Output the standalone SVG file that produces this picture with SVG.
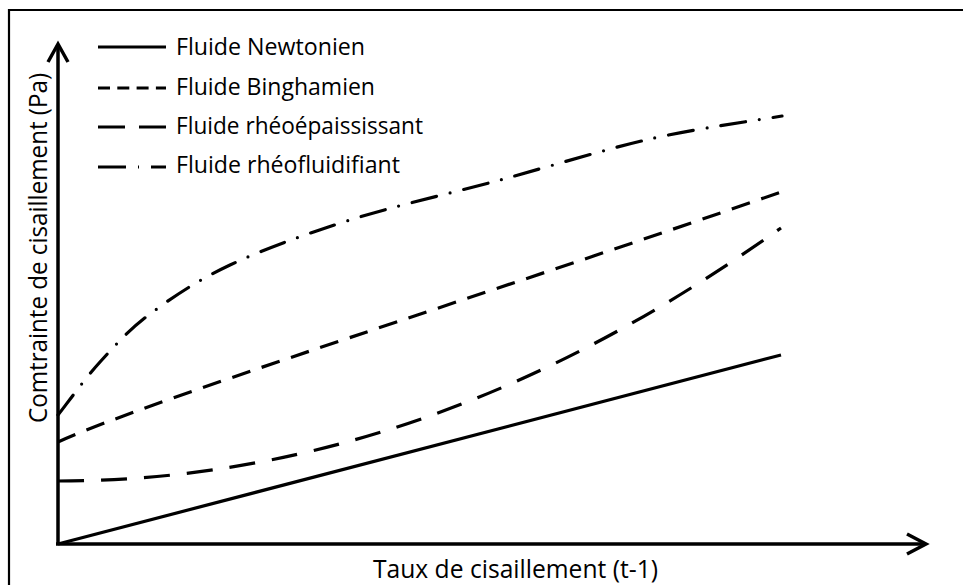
<svg xmlns="http://www.w3.org/2000/svg" width="963" height="585" viewBox="0 0 963 585">
<style>
  .frame{fill:none;stroke:#000;stroke-width:2.2}
  .axis{fill:none;stroke:#000;stroke-width:3.5}
  .curve{fill:none;stroke:#000;stroke-width:3.2}
  .bingham{stroke-dasharray:19 12}
  .epais{stroke-dasharray:26 17}
  .fluid{stroke-linecap:round;stroke-dasharray:25 14 0 14}
  .leg{font-family:"Open Sans","Noto Sans",sans-serif;font-size:23px;fill:#000}
  .ax{font-family:"Open Sans","Noto Sans",sans-serif;font-size:26px;fill:#000}
</style>
<rect width="963" height="585" fill="#fff"/>
<polyline class="frame" points="9,585 9,10 963,10"/>
<g id="axes">
  <line class="axis" x1="58" y1="544" x2="58" y2="45"/>
  <line class="axis" x1="56" y1="544" x2="926" y2="544"/>
  <polyline class="axis" points="48,62 58,44 68,62"/>
  <polyline class="axis" points="907,534 926,544 907,554"/>
</g>
<g id="connectors">
  <path id="newtonien" class="curve" d="M58,544 L781,355"/>
  <path id="binghamien" class="curve bingham" d="M58,442 C150,400 500,290 781,192"/>
  <path id="rheoepaississant" class="curve epais" d="M58,481 C400,481 650,320 781,228"/>
  <path id="rheofluidifiant" class="curve fluid" d="M58,415 C65,406.2 84.7,378.8 100,362 C115.3,345.2 128.3,330.2 150,314 C171.7,297.8 196.7,280.7 230,265 C263.3,249.3 305,234.2 350,220 C395,205.8 450,193.5 500,180 C550,166.5 603,149.7 650,139 C697,128.3 760,119.8 782,116"/>
</g>
<g id="legend">
  <g id="leg-newtonien">
    <line class="curve" x1="98" y1="47" x2="166" y2="47"/>
    <text class="leg" x="176" y="55" textLength="189" lengthAdjust="spacingAndGlyphs">Fluide Newtonien</text>
  </g>
  <g id="leg-binghamien">
    <line class="curve" x1="98" y1="88" x2="166" y2="88" style="stroke-dasharray:12 7.3"/>
    <text class="leg" x="176" y="95" textLength="199" lengthAdjust="spacingAndGlyphs">Fluide Binghamien</text>
  </g>
  <g id="leg-rheoepaississant">
    <line class="curve" x1="98" y1="127" x2="166" y2="127" style="stroke-dasharray:27 14"/>
    <text class="leg" x="176" y="134" textLength="247" lengthAdjust="spacingAndGlyphs">Fluide rhéoépaississant</text>
  </g>
  <g id="leg-rheofluidifiant">
    <line class="curve" x1="98" y1="167" x2="166" y2="167" style="stroke-dasharray:28 12 1 12"/>
    <text class="leg" x="176" y="173" textLength="224" lengthAdjust="spacingAndGlyphs">Fluide rhéofluidifiant</text>
  </g>
</g>
<g id="labels">
  <text id="xlabel" class="ax" x="373" y="578" textLength="285" lengthAdjust="spacingAndGlyphs">Taux de cisaillement (t-1)</text>
  <text id="ylabel" class="ax" transform="translate(47,423) rotate(-90)" textLength="350" lengthAdjust="spacingAndGlyphs">Comtrainte de cisaillement (Pa)</text>
</g>
</svg>
